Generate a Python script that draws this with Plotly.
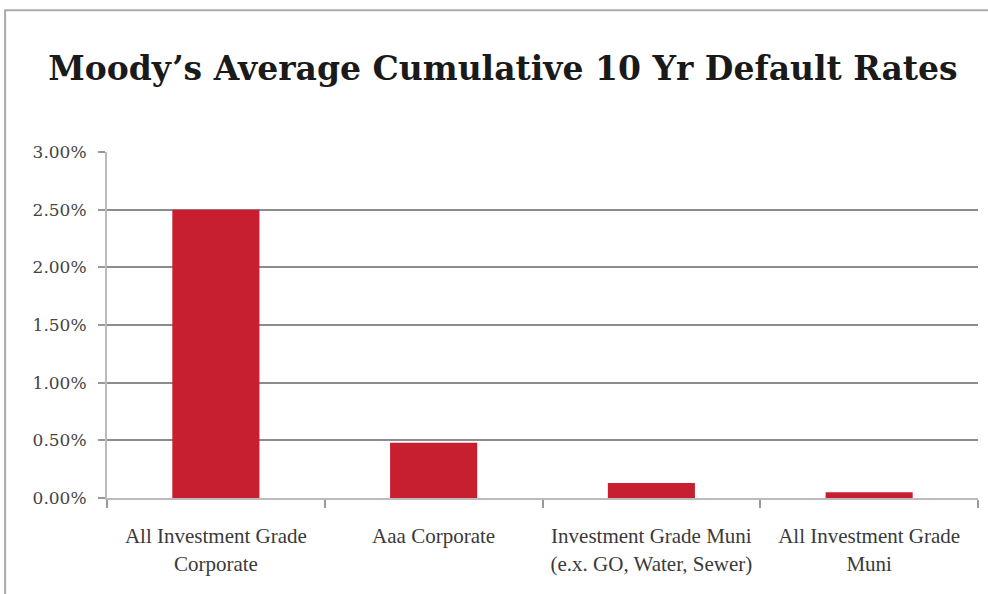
import plotly.graph_objects as go

categories = ["All Investment Grade<br>Corporate", "Aaa Corporate",
              "Investment Grade Muni<br>(e.x. GO, Water, Sewer)", "All Investment Grade<br>Muni"]
values = [2.50, 0.48, 0.13, 0.05]
y_ticks = [0, 0.5, 1.0, 1.5, 2.0, 2.5, 3.0]
y_labels = ["0.00%", "0.50%", "1.00%", "1.50%", "2.00%", "2.50%", "3.00%"]

fig = go.Figure(go.Bar(x=categories, y=values, marker=dict(color="#C81F30", line=dict(width=0)),
                       width=0.4))

fig.update_layout(
    width=988, height=594,
    margin=dict(l=107, r=10, t=152, b=96),
    paper_bgcolor="white", plot_bgcolor="white",
    showlegend=False,
    title=dict(text="<b>Moody’s Average Cumulative 10 Yr Default Rates</b>",
               x=0.509, xref="container", xanchor="center", y=0.885, yanchor="middle",
               font=dict(family="DejaVu Serif", size=33, color="#1a1a1a")),
    font=dict(family="Liberation Serif", color="#333"),
    xaxis=dict(showline=True, linecolor="#bbbbbb", linewidth=2, ticks="outside", tickson="boundaries",
               ticklen=8, tickcolor="#999", tickwidth=1.5, ticklabelstandoff=18,
               tickfont=dict(family="Liberation Serif", size=21, color="#3a3a3a"), showgrid=False),
    yaxis=dict(range=[0, 3.0], tickvals=y_ticks, ticktext=y_labels, showline=True, linecolor="#bbbbbb",
               linewidth=2, ticks="outside", ticklen=7, tickcolor="#999", tickwidth=1.5,
               ticklabelstandoff=8,
               showgrid=True, gridcolor="#8c8c8c", gridwidth=1.5, zeroline=False,
               tickfont=dict(family="DejaVu Serif", size=17, color="#444")),
)

fig.add_shape(type="rect", xref="paper", yref="paper", x0=-0.117, x1=1.2, y0=-0.5, y1=1.41,
              line=dict(color="#aaaaaa", width=2), layer="below")

fig.write_html("out.html")
